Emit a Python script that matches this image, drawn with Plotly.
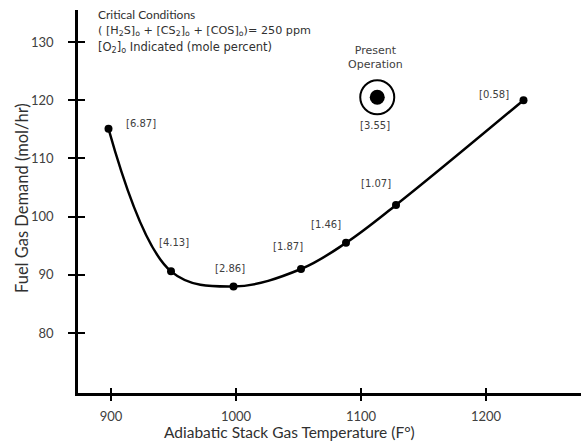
import plotly.graph_objects as go

# Data
temps = [898, 948, 998, 1052, 1088, 1128, 1230]
demand = [115.1, 90.6, 88.0, 91.0, 95.5, 102.0, 120.0]
o2_labels = ["[6.87]", "[4.13]", "[2.86]", "[1.87]", "[1.46]", "[1.07]", "[0.58]"]

present_temp = [1113]
present_demand = [120.5]
present_label = "[3.55]"

x_ticks = [900, 1000, 1100, 1200]
y_ticks = [80, 90, 100, 110, 120, 130]

# label pixel offsets (style only)
label_shift = [(32, 5), (3, 29), (-4, 18), (-13, 23), (-20, 18), (-20, 21), (-30, 6)]

x_range = [873.6, 1276]
y_range = [69.7, 135.5]

fig = go.Figure()

# curve on overlay axes
fig.add_trace(go.Scatter(
    x=temps, y=demand, mode="lines",
    line=dict(color="black", width=2.5, shape="spline", smoothing=1.05),
    xaxis="x2", yaxis="y2", hoverinfo="skip", showlegend=False))

fig.add_trace(go.Scatter(
    x=temps, y=demand, mode="markers",
    marker=dict(color="black", size=8),
    showlegend=False))

# present operation
fig.add_trace(go.Scatter(
    x=present_temp, y=present_demand, mode="markers",
    marker=dict(symbol="circle-open", size=34, color="black", line=dict(width=2)),
    showlegend=False))
fig.add_trace(go.Scatter(
    x=present_temp, y=present_demand, mode="markers",
    marker=dict(symbol="circle", size=15, color="black"),
    showlegend=False))

label_font = dict(family="DejaVu Sans", size=10, color="#404040")
ann = []
for t, d, lab, (dx, dy) in zip(temps, demand, o2_labels, label_shift):
    ann.append(dict(x=t, y=d, text=lab, showarrow=False, xshift=dx, yshift=dy,
                    font=label_font))
ann.append(dict(x=present_temp[0], y=present_demand[0], text=present_label,
                showarrow=False, xshift=-2, yshift=-28, font=label_font))
ann.append(dict(x=present_temp[0], y=present_demand[0], text="Present<br>Operation",
                showarrow=False, xshift=-2, yshift=40,
                font=dict(family="DejaVu Sans", size=11, color="#404040")))

PW, PH = 503, 383
TX = (96 - 78) / PW
ann.append(dict(xref="paper", yref="paper", x=TX, y=1 - (15 - 10) / PH,
                xanchor="left", yanchor="middle", showarrow=False,
                text="Critical Conditions",
                font=dict(family="Lato", size=12, color="#303030")))
ann.append(dict(xref="paper", yref="paper", x=TX, y=1 - (31 - 10) / PH,
                xanchor="left", yanchor="middle", showarrow=False,
                text="( [H<sub>2</sub>S]<sub>o</sub> + [CS<sub>2</sub>]<sub>o</sub> + [COS]<sub>o</sub>)= 250 ppm",
                font=dict(family="DejaVu Sans", size=11.2, color="#303030")))
ann.append(dict(xref="paper", yref="paper", x=TX, y=1 - (47 - 10) / PH,
                xanchor="left", yanchor="middle", showarrow=False,
                text="[O<sub>2</sub>]<sub>o</sub> Indicated (mole percent)",
                font=dict(family="DejaVu Sans", size=11.5, color="#303030")))

# axis titles
ann.append(dict(xref="paper", yref="paper", x=(289 - 78) / PW, y=1 - (432 - 10) / PH,
                xanchor="center", yanchor="middle", showarrow=False,
                text="Adiabatic Stack Gas Temperature (F°)",
                font=dict(family="Lato", size=15.5, color="#303030")))
ann.append(dict(xref="paper", yref="paper", x=(22 - 78) / PW, y=1 - (198 - 10) / PH,
                xanchor="center", yanchor="middle", showarrow=False, textangle=-90,
                text="Fuel Gas Demand (mol/hr)",
                font=dict(family="Lato", size=16.5, color="#303030")))

tick_font = dict(family="Lato", size=13, color="#404040")

fig.update_layout(
    width=581, height=446,
    margin=dict(l=78, r=0, t=10, b=53),
    paper_bgcolor="white", plot_bgcolor="white",
    showlegend=False,
    annotations=ann,
    xaxis=dict(range=x_range, tickvals=x_ticks, ticks="outside", ticklen=5, tickwidth=2,
               tickcolor="black", showline=True, linecolor="black", linewidth=2.5,
               showgrid=False, zeroline=False, tickfont=tick_font, ticklabelstandoff=5,
               automargin=False),
    yaxis=dict(range=y_range, tickvals=y_ticks, ticks="outside", ticklen=7, tickwidth=2,
               tickcolor="black", showline=True, linecolor="black", linewidth=2.5,
               showgrid=False, zeroline=False, tickfont=tick_font, ticklabelstandoff=12,
               automargin=False),
    xaxis2=dict(range=x_range, overlaying="x", anchor="y2", side="bottom",
                tickvals=x_ticks, ticks="inside", ticklen=5, tickwidth=2, tickcolor="black",
                showticklabels=False, showgrid=False, zeroline=False, showline=False,
                automargin=False),
    yaxis2=dict(range=y_range, overlaying="y", anchor="x2", side="left",
                tickvals=y_ticks, ticks="inside", ticklen=7, tickwidth=2, tickcolor="black",
                showticklabels=False, showgrid=False, zeroline=False, showline=False,
                automargin=False),
)

fig.write_html("out.html", config={"displayModeBar": False},
               post_script="document.body.style.margin='0';document.body.style.overflow='hidden';")
